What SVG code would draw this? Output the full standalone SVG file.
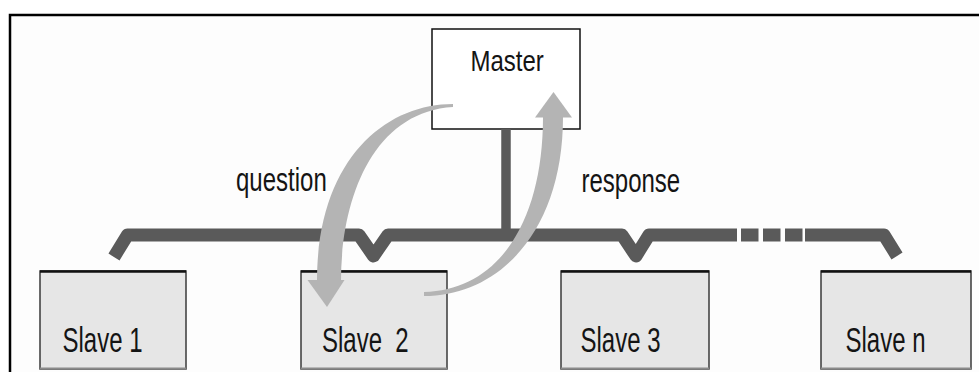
<svg xmlns="http://www.w3.org/2000/svg" width="979" height="372" viewBox="0 0 979 372">
  <style>
    .lbl { font-family: "Liberation Sans", Arial, sans-serif; font-size: 24px; fill: #141414; white-space: pre; }
    .slave-box { fill: #e6e6e6; stroke: #3a3a3a; stroke-width: 1.5; }
    .slave-top { stroke: #111; stroke-width: 2.5; }
    .slave-bot { stroke: #8a8a8a; stroke-width: 2; }
    .bus { fill: none; stroke: #5a5a5a; stroke-width: 13; stroke-linejoin: round; }
    .flow { fill: #b4b4b4; }
  </style>

  <!-- outer frame -->
  <rect x="10" y="15" width="980" height="370" fill="#fdfdfd"/>
  <path d="M10,372 V15 H979" fill="none" stroke="#000" stroke-width="2.5"/>

  <!-- master -->
  <g id="master">
    <rect x="432" y="29" width="148" height="100" fill="#fff" stroke="#111" stroke-width="1.5"/>
    <text class="lbl" transform="translate(470.5,70.5) scale(1,1.22)">Master</text>
  </g>

  <!-- slaves -->
  <g id="slave1">
    <rect class="slave-box" x="40" y="271" width="146" height="98"/>
    <line class="slave-top" x1="40" y1="271.5" x2="186" y2="271.5"/>
    <line class="slave-bot" x1="40" y1="368.5" x2="186" y2="368.5"/>
    <text class="lbl" transform="translate(62.5,351.7) scale(1,1.45)">Slave 1</text>
  </g>
  <g id="slave2">
    <rect class="slave-box" x="301" y="271" width="146" height="98"/>
    <line class="slave-top" x1="301" y1="271.5" x2="447" y2="271.5"/>
    <line class="slave-bot" x1="301" y1="368.5" x2="447" y2="368.5"/>
    <text class="lbl" transform="translate(322,351.7) scale(1,1.45)">Slave  2</text>
  </g>
  <g id="slave3">
    <rect class="slave-box" x="561" y="271" width="148" height="98"/>
    <line class="slave-top" x1="561" y1="271.5" x2="709" y2="271.5"/>
    <line class="slave-bot" x1="561" y1="368.5" x2="709" y2="368.5"/>
    <text class="lbl" transform="translate(580.5,351.7) scale(1,1.45)" font-size="24.5">Slave 3</text>
  </g>
  <g id="slaven">
    <rect class="slave-box" x="821" y="271" width="150" height="98"/>
    <line class="slave-top" x1="821" y1="271.5" x2="971" y2="271.5"/>
    <line class="slave-bot" x1="821" y1="368.5" x2="971" y2="368.5"/>
    <text class="lbl" transform="translate(845.5,351.7) scale(1,1.45)">Slave n</text>
  </g>

  <!-- connectors -->
  <g id="connectors">
    <!-- master stem -->
    <line x1="506" y1="129" x2="506" y2="235" stroke="#5a5a5a" stroke-width="9.5"/>
    <!-- bus with drops to each slave -->
    <path class="bus" d="M114,257 L127.5,235 L359,235 L373.5,256 L388,235 L622,235 L636,256 L649,235 L737,235"/>
    <line x1="741" y1="235" x2="802.5" y2="235" stroke="#5a5a5a" stroke-width="13" stroke-dasharray="17.5 4.5"/>
    <path class="bus" d="M805,235 L884,235 L897,256"/>

    <!-- question: master to slave 2 -->
    <g id="question-arrow">
      <path class="flow" d="M453,104 C385,104 317,160 317,281 L341,281 C341,200 372,112 453,107 Z"/>
      <polygon class="flow" points="307.5,280 344.5,280 327,307"/>
    </g>
    <!-- response: slave 2 to master -->
    <g id="response-arrow">
      <path class="flow" d="M424,296 C500,296 563,230 563,117 L543,117 C543,220 500,290 424,292 Z"/>
      <polygon class="flow" points="535,117.5 572,117.5 553.5,92"/>
    </g>
  </g>

  <!-- flow labels -->
  <text class="lbl" transform="translate(236,191) scale(1,1.42)">question</text>
  <text class="lbl" transform="translate(581.5,191.5) scale(1,1.38)" font-size="23.5">response</text>
</svg>
